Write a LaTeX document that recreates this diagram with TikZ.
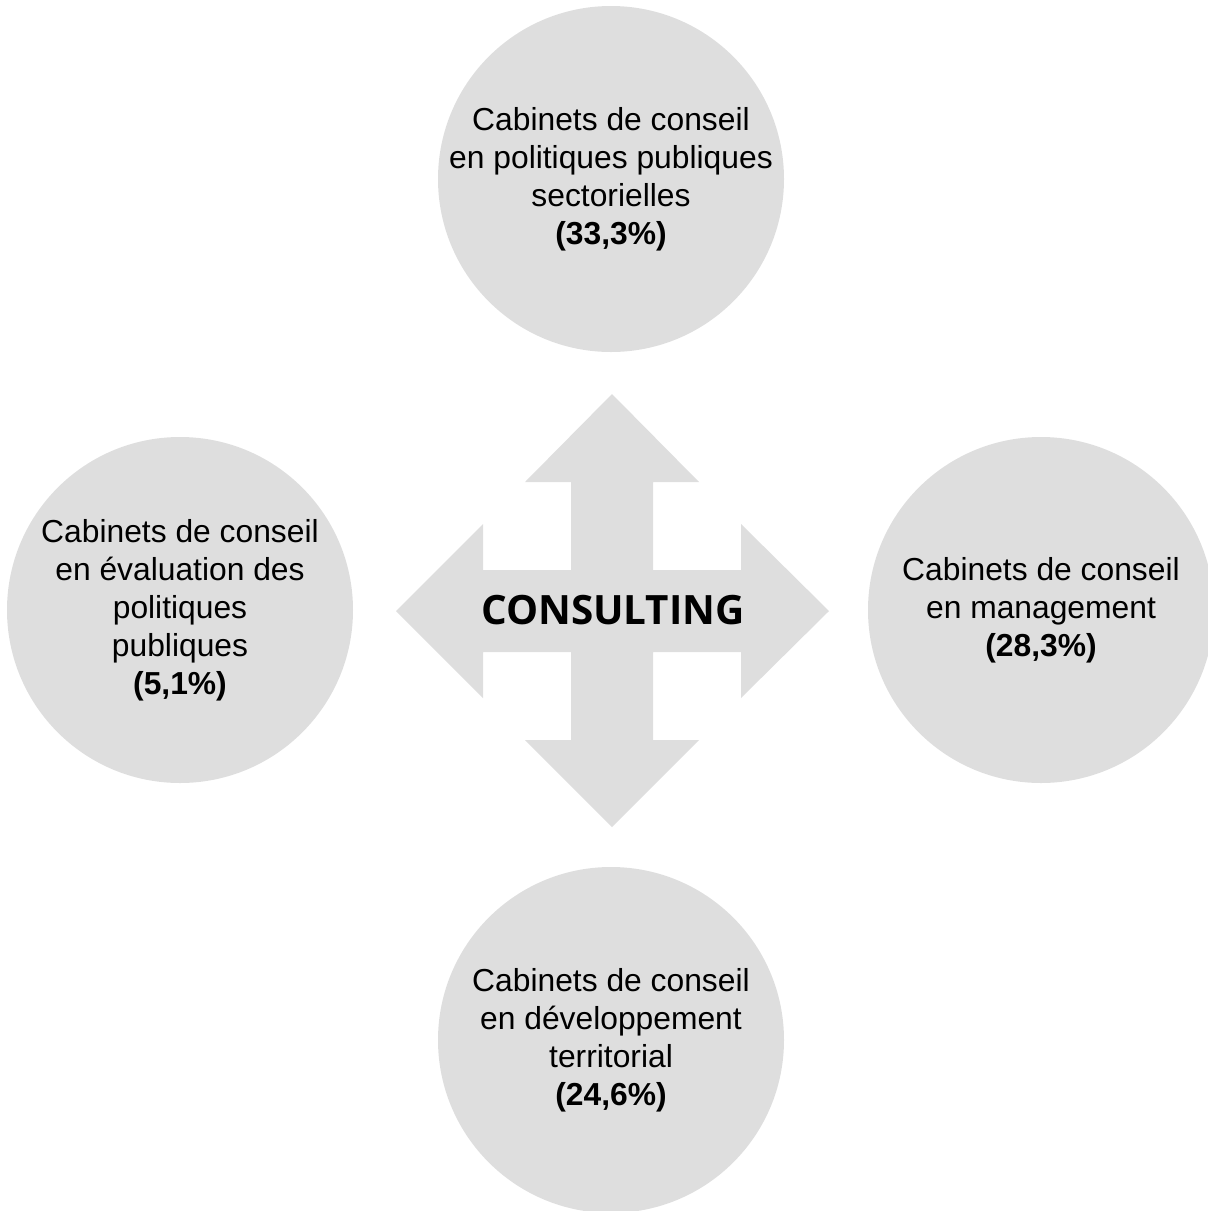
\documentclass[tikz,border=0pt]{standalone}
\usepackage{fontspec}
\setmainfont{Liberation Sans}
\newfontfamily\hubfont{Open Sans}
\usepackage{tikz}
\usetikzlibrary{positioning}
\definecolor{discgrey}{RGB}{222,222,222}

\begin{document}
\begin{tikzpicture}[x=0.5pt,y=-0.5pt,
  disc/.style={circle,fill=discgrey,minimum size=173pt,inner sep=0pt},
  disctext/.style={align=center,inner sep=0pt,font=\fontsize{15.9}{19}\selectfont}]
\useasboundingbox (0,0) rectangle (1208,1211);
\clip (0,0) rectangle (1208,1211);
% ---------- the four-way arrow ----------
\fill[discgrey] (612,394) -- (699,482) -- (653,482) -- (653,570) -- (741,570) -- (741,524)
  -- (829,611) -- (741,698) -- (741,652) -- (653,652) -- (653,740) -- (699,740)
  -- (612,827) -- (525,740) -- (571,740) -- (571,652) -- (483,652) -- (483,698)
  -- (396,611) -- (483,524) -- (483,570) -- (571,570) -- (571,482) -- (525,482) -- cycle;
\node[font=\hubfont\bfseries\fontsize{20.2}{24}\selectfont,inner sep=0pt] (hub) at (613,610) {CONSULTING};
% ---------- the four families of firms ----------
\foreach \nm/\x/\y/\txt in {
    sect/611/179/{Cabinets de conseil\\en politiques publiques\\sectorielles\\\textbf{(33,3\%)}},
    eval/180/610/{Cabinets de conseil\\en évaluation des\\politiques\\publiques\\\textbf{(5,1\%)}},
    mgmt/1041/610/{Cabinets de conseil\\en management\\\textbf{(28,3\%)}},
    terr/611/1040/{Cabinets de conseil\\en développement\\territorial\\\textbf{(24,6\%)}}}{
  \node[disc] (\nm) at (\x,\y) {};
  \node[disctext] (\nm-txt) at (\nm.center) {\txt};
}
\end{tikzpicture}
\end{document}
